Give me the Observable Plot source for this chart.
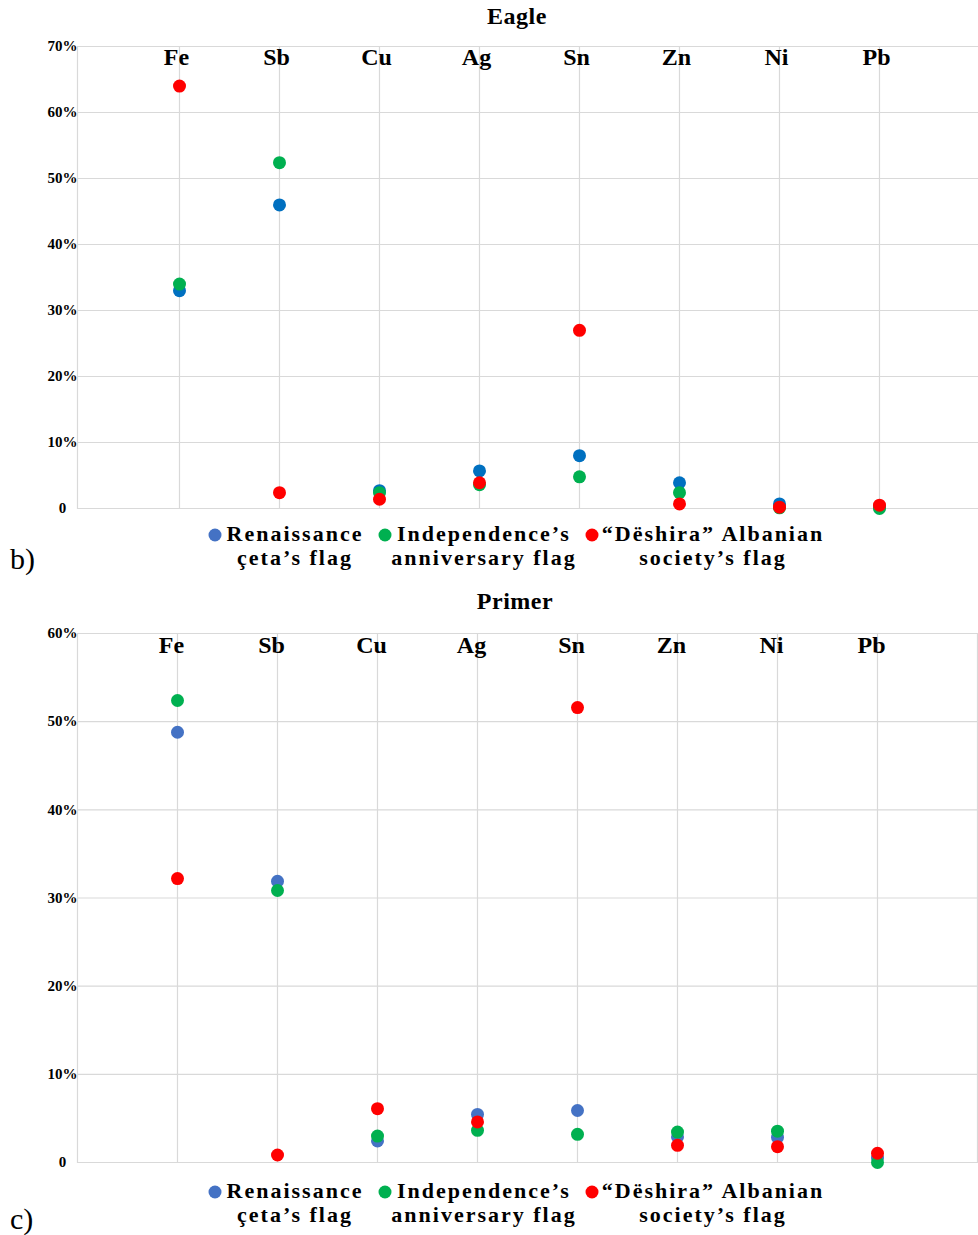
<!DOCTYPE html>
<html><head><meta charset="utf-8">
<script src="https://cdn.jsdelivr.net/npm/d3@7"></script>
<script src="https://cdn.jsdelivr.net/npm/@observablehq/plot@0.6"></script>
<style>
body{margin:0;background:#fff;}
#wrap{position:relative;width:978px;height:1235px;overflow:hidden;font-family:"Liberation Serif","Times New Roman",serif;color:#000;}
.abs{position:absolute;white-space:nowrap;}
.title{font-weight:bold;font-size:24px;letter-spacing:0.5px;line-height:24px;transform:translateX(-50%);}
.leg{font-weight:bold;font-size:22px;letter-spacing:2px;text-align:center;transform:translateX(-50%);}
.mk{position:absolute;width:13px;height:13px;border-radius:50%;transform:translate(-50%,-50%);}
.panel{font-size:30px;line-height:30px;}
svg{position:absolute;left:0;}
</style></head><body><div id="wrap"></div>
<script>
// ---- data ----
const elements = ["Fe", "Sb", "Cu", "Ag", "Sn", "Zn", "Ni", "Pb"];
const seriesNames = ["Renaissance çeta’s flag", "Independence’s anniversary flag", "“Dëshira” Albanian society’s flag"];
const legendLine1 = ["Renaissance", "Independence’s", "“Dëshira” Albanian"];
const legendLine2 = ["çeta’s flag", "anniversary flag", "society’s flag"];

const eagleRenaissance  = [33.0, 46.0, 2.7, 5.7, 8.0, 3.9, 0.7, 0.2];
const eagleIndependence = [34.0, 52.4, 2.4, 3.6, 4.8, 2.4, 0.1, 0.0];
const eagleDeshira      = [64.0, 2.4, 1.4, 3.9, 27.0, 0.7, 0.2, 0.5];
const eagleTicks = [0, 10, 20, 30, 40, 50, 60, 70];

const primerRenaissance  = [48.8, 31.9, 2.45, 5.45, 5.9, 2.9, 2.85, 0.5];
const primerIndependence = [52.4, 30.85, 3.0, 3.65, 3.2, 3.45, 3.55, 0.0];
const primerDeshira      = [32.2, 0.85, 6.1, 4.6, 51.6, 1.95, 1.8, 1.05];
const primerTicks = [0, 10, 20, 30, 40, 50, 60];

const eagleColors  = ["#0070C0", "#00B050", "#FF0000"];
const primerColors = ["#4472C4", "#00B050", "#FF0000"];
const legendColors = ["#4472C4", "#00B050", "#FF0000"];

// ---- helpers ----
const wrap = document.getElementById("wrap");
const fmt = d => d === 0 ? "0" : d + "%";

function rowsOf(seriesVals) {
  const rows = [];
  seriesVals.forEach((vals, si) => vals.forEach((v, i) =>
    rows.push({element: elements[i], series: seriesNames[si], value: v})));
  return rows;
}

function chart({top, height, marginTop, marginBottom, marginRight, xRange, yMax, ticks, seriesVals, colors, rightFrame, labelDy, labelDx}) {
  const svg = Plot.plot({
    width: 978, height, marginTop, marginBottom, marginLeft: 77, marginRight,
    x: {type: "point", domain: elements, range: xRange, padding: 1, axis: null},
    y: {domain: [0, yMax], axis: null},
    color: {domain: seriesNames, range: colors},
    style: {fontFamily: "'Liberation Serif', 'Times New Roman', serif", background: "transparent", color: "#000"},
    marks: [
      Plot.ruleY(ticks, {stroke: "#d9d9d9", strokeWidth: 1.2}),
      Plot.ruleX(elements, {stroke: "#d9d9d9", strokeWidth: 1.2}),
      Plot.frame({anchor: "left", stroke: "#d9d9d9", strokeWidth: 1.2}),
      rightFrame ? Plot.frame({anchor: "right", stroke: "#d9d9d9", strokeWidth: 1.2}) : null,
      Plot.axisY({ticks, label: null, tickSize: 0, tickPadding: 15, textAnchor: "middle", tickFormat: fmt, fontSize: 15, fontWeight: "bold", fill: "#000"}),
      Plot.text(elements, {x: d => d, text: d => d, frameAnchor: "top", dy: labelDy, dx: labelDx, fontSize: 24, fontWeight: "bold", fill: "#000"}),
      Plot.dot(rowsOf(seriesVals), {x: "element", y: "value", fill: "series", r: 6.5})
    ]
  });
  svg.style.top = top + "px";
  wrap.appendChild(svg);
}

function addText(cls, text, left, top, extra) {
  const d = document.createElement("div");
  d.className = "abs " + cls;
  d.textContent = text;
  d.style.left = left + "px";
  d.style.top = top + "px";
  if (extra) Object.assign(d.style, extra);
  wrap.appendChild(d);
}

function legend(markerY, line1Top, lineH) {
  const centers = [295, 484, 713];
  const markers = [215, 385, 592];
  legendLine1.forEach((t, i) => {
    const m = document.createElement("div");
    m.className = "mk";
    m.style.left = markers[i] + "px";
    m.style.top = markerY + "px";
    m.style.background = legendColors[i];
    wrap.appendChild(m);
    addText("leg", t, centers[i], line1Top, {lineHeight: lineH + "px"});
    addText("leg", legendLine2[i], centers[i], line1Top + lineH, {lineHeight: lineH + "px"});
  });
}

// ---- Eagle ----
addText("title", "Eagle", 517, 4);
chart({top: 0, height: 516, marginTop: 46, marginBottom: 8, marginRight: 0, xRange: [77, 980], yMax: 70,
       ticks: eagleTicks, seriesVals: [eagleRenaissance, eagleIndependence, eagleDeshira],
       colors: eagleColors, rightFrame: false, labelDy: 1, labelDx: -3});
legend(535, 522, 23.5);
addText("panel", "b)", 10, 544);

// ---- Primer ----
addText("title", "Primer", 515, 589);
chart({top: 590, height: 580, marginTop: 43, marginBottom: 8, marginRight: 1, xRange: [77, 977], yMax: 60,
       ticks: primerTicks, seriesVals: [primerRenaissance, primerIndependence, primerDeshira],
       colors: primerColors, rightFrame: true, labelDy: 2.5, labelDx: -6});
legend(1192, 1179, 24.3);
addText("panel", "c)", 10, 1204);
</script></body></html>
